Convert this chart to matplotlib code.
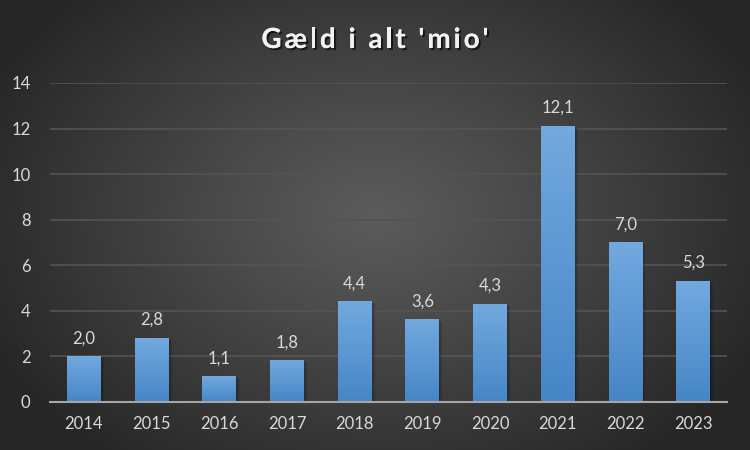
import numpy as np
import matplotlib
matplotlib.use("Agg")
import matplotlib.pyplot as plt
from matplotlib.colors import LinearSegmentedColormap
import matplotlib.patheffects as pe

years = ["2014", "2015", "2016", "2017", "2018", "2019", "2020", "2021", "2022", "2023"]
values = [2.0, 2.8, 1.1, 1.8, 4.4, 3.6, 4.3, 12.1, 7.0, 5.3]
title = "Gæld i alt 'mio'"
yticks = [0, 2, 4, 6, 8, 10, 12, 14]

plt.rcParams['font.family'] = ['Lato', 'DejaVu Sans']

fig = plt.figure(figsize=(7.5, 4.5), dpi=100)

# radial gradient background
bg = fig.add_axes([0, 0, 1, 1], zorder=-10)
bg.set_axis_off()
H, W = 450, 750
yy, xx = np.mgrid[0:H, 0:W]
r = np.sqrt(((xx - 375) / 430.0) ** 2 + ((yy - 215) / 310.0) ** 2)
r = np.clip(r, 0, 1) ** 1.1
c_center = np.array([0x5b, 0x5b, 0x5b]) / 255
c_edge = np.array([0x26, 0x26, 0x26]) / 255
img = c_center[None, None, :] * (1 - r[..., None]) + c_edge[None, None, :] * r[..., None]
bg.imshow(img, extent=[0, 1, 0, 1], aspect='auto', origin='upper')
bg.set_xlim(0, 1)
bg.set_ylim(0, 1)

ax = fig.add_axes([0.0667, 0.1067, 0.9026, 0.7089])
ax.patch.set_alpha(0)

x = np.arange(len(years))
bw = 0.5
cmap = LinearSegmentedColormap.from_list("bar", ["#4686c6", "#72a9df"])
grad = np.linspace(0, 1, 256).reshape(-1, 1)

bars = ax.bar(x, values, width=bw, color='none', zorder=3)
for b, v in zip(bars, values):
    x0 = b.get_x()
    for k, a in enumerate([0.10, 0.08, 0.06, 0.04]):
        off = 0.015 * (k + 1)
        ax.add_patch(plt.Rectangle((x0 + off, -0.02 * (k + 1)), bw, v, color='black',
                                   alpha=a, lw=0, zorder=2))
    ax.imshow(grad, extent=[x0, x0 + bw, 0, v], origin='lower', cmap=cmap,
              aspect='auto', zorder=3)
    ax.text(b.get_x() + bw / 2, v + 0.45, f"{v:.1f}".replace('.', ','),
            ha='center', va='bottom', color='#d9d9d9', fontsize=12, zorder=4)

ax.set_xlim(-0.5, len(years) - 0.5)
ax.set_ylim(0, 14)
ax.set_yticks(yticks)
ax.set_yticklabels([str(t) for t in yticks])
ax.set_xticks(x)
ax.set_xticklabels(years)
ax.tick_params(axis='both', length=0, colors='#d9d9d9', labelsize=12)
ax.tick_params(axis='y', pad=14)
ax.tick_params(axis='x', pad=10)
ax.grid(axis='y', color='#545454', lw=1.2, zorder=0)
ax.set_axisbelow(True)
for s in ['top', 'right', 'left']:
    ax.spines[s].set_visible(False)
ax.spines['bottom'].set_color('#a6a6a6')
ax.spines['bottom'].set_linewidth(1.5)
ax.spines['bottom'].set_zorder(5)

# letter-spaced title
renderer = fig.canvas.get_renderer()
tkw = dict(color='#f2f2f2', fontsize=20, fontweight='bold', va='baseline', ha='left',
           path_effects=[pe.withSimplePatchShadow(offset=(1.5, -1.5), shadow_rgbFace='black', alpha=0.6),
                         pe.Normal()])
spacing = 3.0  # px
full = fig.text(0, 0, title, **tkw)
full_w = full.get_window_extent(renderer).width
full.remove()
total = full_w + spacing * (len(title) - 1)
xpix = 375 - total / 2
base_y = 1 - 48 / 450
# measure progressive widths to keep kerning
for i, ch in enumerate(title):
    pre = fig.text(0, 0, title[:i] if i > 0 else "", **tkw)
    w_pre = pre.get_window_extent(renderer).width if i > 0 else 0
    pre.remove()
    fig.text((xpix + w_pre + spacing * i) / 750, base_y, ch, **tkw)

fig.savefig("out.png", dpi=100)
